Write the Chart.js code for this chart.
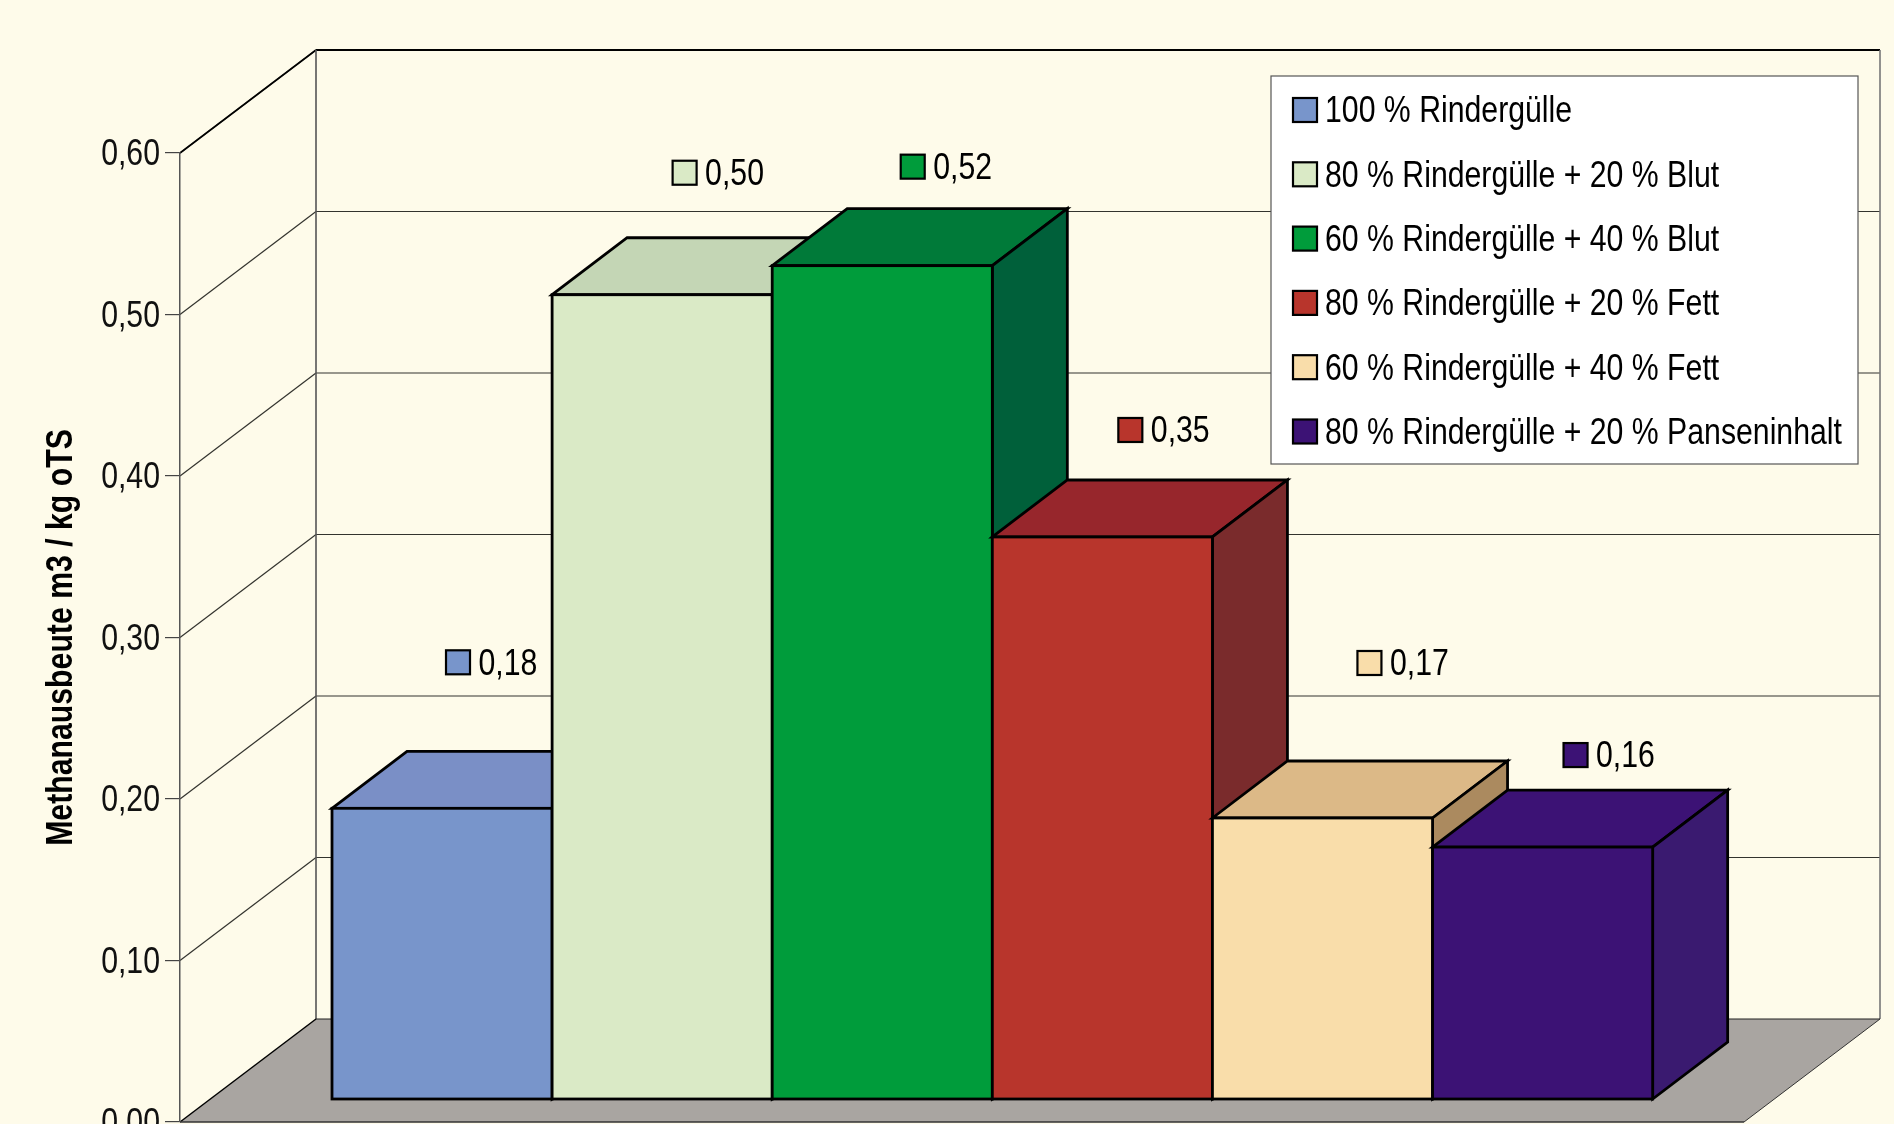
<!DOCTYPE html>
<html><head><meta charset="utf-8">
<style>html,body{margin:0;padding:0;background:#FEFBEA;overflow:hidden}canvas{display:block}</style>
<script src="https://cdn.jsdelivr.net/npm/chart.js@4"></script>
</head><body><canvas id="c" width="1894" height="1124"></canvas>
<script>
const seriesNames = ['100 % Rindergülle','80 % Rindergülle + 20 % Blut','60 % Rindergülle + 40 % Blut','80 % Rindergülle + 20 % Fett','60 % Rindergülle + 40 % Fett','80 % Rindergülle + 20 % Panseninhalt'];
const seriesValues = [0.180,0.498,0.516,0.348,0.174,0.156];
const seriesPositions = [1,2,3,4,5,6];
const frontColors = ['#7895CB','#DAEAC6','#009C3B','#B8352C','#F9DDAA','#3C1275'];
const topColors = ['#7A8FC6','#C4D6B5','#007A39','#97262C','#DCB987','#3C1275'];
const sideColors = ['#5F75A0','#AEBE9E','#00603A','#7A2B2C','#AB8A5F','#3A1A70'];
const tickLabels = ['0,00','0,10','0,20','0,30','0,40','0,50','0,60'];
const axisTitle = 'Methanausbeute m3 / kg oTS';

const FONT = '"Liberation Sans",Arial,sans-serif';
const TEXT_SQUEEZE = 0.84;
const origFillText = CanvasRenderingContext2D.prototype.fillText;
CanvasRenderingContext2D.prototype.fillText = function(t,x,y,m){
  this.save();this.translate(x,y);this.scale(TEXT_SQUEEZE,1);
  origFillText.call(this,t,0,this.textBaseline==='middle'?2.5:0);
  this.restore();
};

const wall = {dx:136, dy:103};
const bar = {dx:75, dy:57};
const labelOffsets = [[113,-89],[119.5,-65],[127.5,-42],[125,-50],[144,-98],[130,-35]];

function poly(ctx, pts, fill, stroke, lw){
  ctx.beginPath();
  pts.forEach((p,i)=> i?ctx.lineTo(p[0],p[1]):ctx.moveTo(p[0],p[1]));
  ctx.closePath();
  if(fill){ctx.fillStyle=fill;ctx.fill();}
  if(stroke){ctx.strokeStyle=stroke;ctx.lineWidth=lw;ctx.lineJoin='miter';ctx.stroke();}
}
function line(ctx,x1,y1,x2,y2,c,w){ctx.beginPath();ctx.moveTo(x1,y1);ctx.lineTo(x2,y2);ctx.strokeStyle=c;ctx.lineWidth=w;ctx.stroke();}
function key(ctx,x,cy,fill){
  ctx.fillStyle=fill;ctx.strokeStyle='#000';ctx.lineWidth=2.2;
  ctx.fillRect(x+1,cy-12,24,24);ctx.strokeRect(x+1,cy-12,24,24);
}
const legendBox = {left:1271,top:76,right:1858,bottom:464};
const legendRow = {firstCenter:110,step:64.3,keyX:1292};

const box3d = {
  id:'box3d',
  beforeDraw(chart){
    const {ctx,scales:{y},chartArea:a}=chart;
    ctx.save();
    ctx.fillStyle='#FEFBEA';ctx.fillRect(0,0,chart.width,chart.height);
    const y0=y.getPixelForValue(0);
    const backL=a.left+wall.dx, backR=a.right+wall.dx;
    poly(ctx,[[a.left,y0],[backL,y0-wall.dy],[backR,y0-wall.dy],[a.right,y0]],'#A9A5A1');
    const maxV=y.max;
    y.ticks.forEach(t=>{
      if(t.value===0)return;
      const py=y.getPixelForValue(t.value);
      line(ctx,a.left,py,backL,py-wall.dy,'#33332e',1.2);
      if(t.value<maxV) line(ctx,backL,py-wall.dy,backR,py-wall.dy,'#33332e',1.2);
    });
    const top=y.getPixelForValue(maxV);
    line(ctx,a.left,top,backL,top-wall.dy,'#000',1.6);
    line(ctx,backL,top-wall.dy,backR,top-wall.dy,'#000',2);
    line(ctx,backL,top-wall.dy,backL,y0-wall.dy,'#555',1.6);
    line(ctx,backR,top-wall.dy,backR,y0-wall.dy,'#777',1.6);
    line(ctx,a.left,y0,backL,y0-wall.dy,'#000',1.5);
    line(ctx,backL,y0-wall.dy,backR,y0-wall.dy,'#222',1.2);
    line(ctx,backR,y0-wall.dy,a.right,y0,'#333',1);
    line(ctx,a.left,y0,a.right,y0,'#333',1.5);
    ctx.fillStyle='#fff';ctx.strokeStyle='#555';ctx.lineWidth=1.2;
    const L=legendBox;
    ctx.fillRect(L.left,L.top,L.right-L.left,L.bottom-L.top);
    ctx.strokeRect(L.left,L.top,L.right-L.left,L.bottom-L.top);
    ctx.restore();
  },
  afterLayout(chart){
    const l=chart.legend,p=l.options.labels.padding,h=36;
    l.left=legendRow.keyX-p;
    l.top=legendRow.firstCenter-h/2-p;
    l.right=legendBox.right;
    l.bottom=legendBox.bottom+80;
  },
  beforeDatasetDraw(chart,{index,meta}){
    const {ctx}=chart;const e=meta.data[0];
    const l=e.x-e.width/2,r=e.x+e.width/2,t=e.y,b=e.base;
    ctx.save();
    poly(ctx,[[l,t],[l+bar.dx,t-bar.dy],[r+bar.dx,t-bar.dy],[r,t]],topColors[index],'#000',2.8);
    poly(ctx,[[r,t],[r+bar.dx,t-bar.dy],[r+bar.dx,b-bar.dy],[r,b]],sideColors[index],'#000',2.8);
    ctx.restore();
  },
  afterDatasetDraw(chart,{meta}){
    const {ctx}=chart;const e=meta.data[0];
    ctx.save();ctx.strokeStyle='#000';ctx.lineWidth=2.8;ctx.lineJoin='miter';
    ctx.strokeRect(e.x-e.width/2,e.y,e.width,e.base-e.y);
    ctx.restore();
  },
  afterDatasetsDraw(chart){
    const {ctx}=chart;
    ctx.save();
    frontColors.forEach((c,i)=>key(ctx,legendRow.keyX,legendRow.firstCenter+i*legendRow.step,c));
    ctx.font='36px '+FONT;ctx.textBaseline='middle';ctx.textAlign='left';
    seriesValues.forEach((v,i)=>{
      const e=chart.getDatasetMeta(i).data[0];
      const l=e.x-e.width/2, ky=e.y-bar.dy+labelOffsets[i][1], kx=l+labelOffsets[i][0];
      key(ctx,kx,ky,frontColors[i]);
      ctx.fillStyle='#000';
      ctx.fillText(v.toFixed(2).replace('.',','),kx+33.5,ky);
    });
    ctx.restore();
  }
};

new Chart(document.getElementById('c'),{
  type:'bar',
  data:{datasets:seriesNames.map((n,i)=>({
    label:n,
    data:[{x:seriesPositions[i],y:seriesValues[i]}],
    backgroundColor:frontColors[i],
    borderColor:'#000',
    borderWidth:0,
    grouped:false,
    barPercentage:1,categoryPercentage:1,
    order:seriesNames.length-i,
    yAxisID:'yBars',xAxisID:'x'
  }))},
  options:{
    responsive:false,animation:false,
    layout:{padding:{top:153,bottom:2,right:150,left:0}},
    plugins:{
      tooltip:{enabled:false},
      legend:{
        position:'chartArea',align:'start',
        labels:{
          boxWidth:15,boxHeight:20,padding:28.3,color:'#000',
          font:{family:FONT,size:36},
          generateLabels(chart){
            return chart.data.datasets.map((d,i)=>({text:d.label,fillStyle:d.backgroundColor,strokeStyle:'#000',lineWidth:0,datasetIndex:i}));
          }
        }
      }
    },
    scales:{
      x:{type:'linear',display:false,offset:false,min:-0.1906,max:6.915,ticks:{stepSize:1,includeBounds:false}},
      y:{
        type:'linear',position:'left',min:0,max:0.6,
        afterFit(s){s.width=180;s.paddingTop=0;s.paddingBottom=0;},
        ticks:{stepSize:0.1,padding:5,color:'#111',font:{family:FONT,size:36},
          callback:(v,i)=>tickLabels[i]},
        grid:{drawOnChartArea:false,drawTicks:true,tickLength:15,color:'#444',lineWidth:1.2},
        border:{display:true,color:'#555',width:1.5},
        title:{display:true,text:axisTitle,color:'#000',font:{family:FONT,size:36,weight:'bold'},padding:{top:38,bottom:0}}
      },
      yBars:{type:'linear',display:false,min:-0.01424,max:0.58576}
    }
  },
  plugins:[box3d]
});
</script></body></html>
